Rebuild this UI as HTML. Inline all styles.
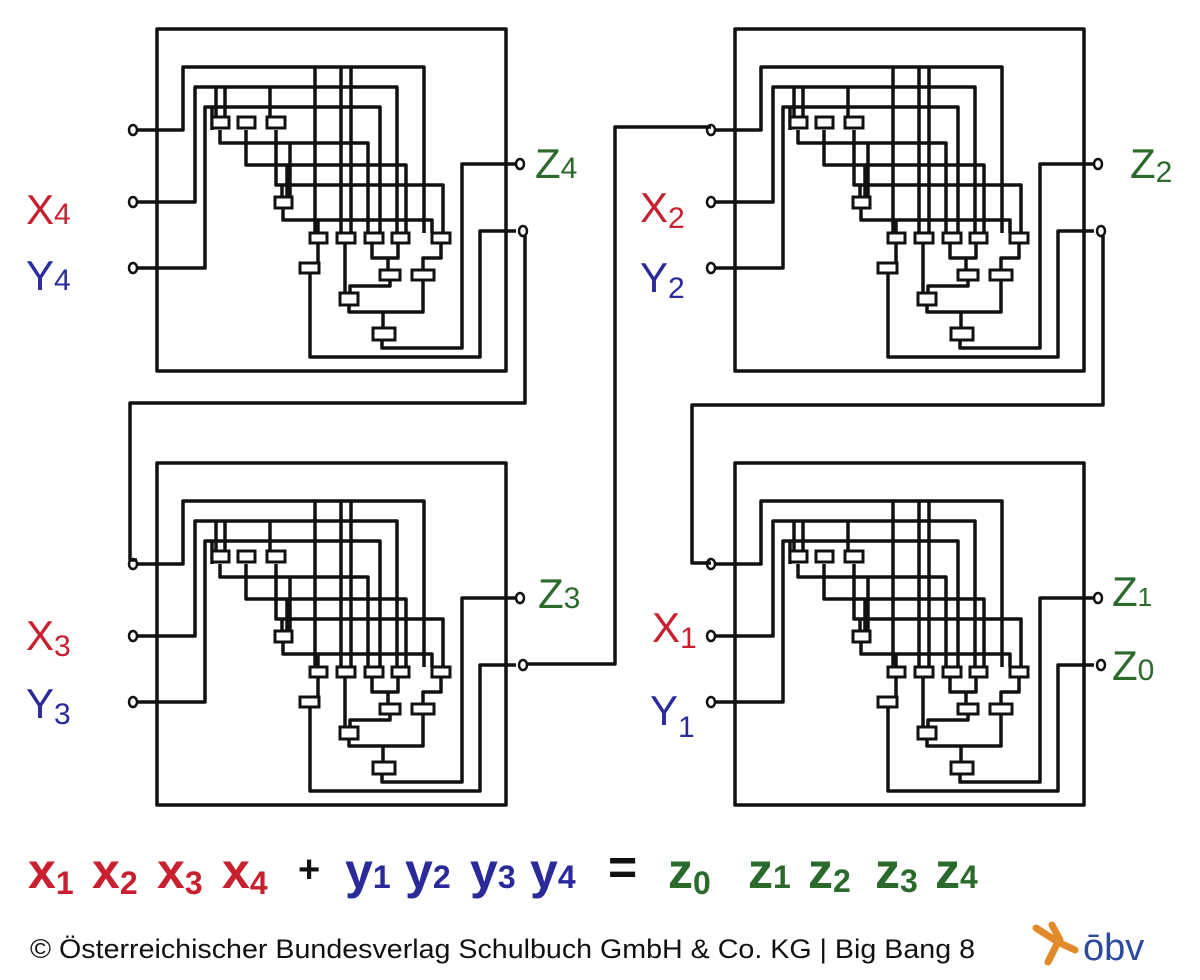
<!DOCTYPE html>
<html><head><meta charset="utf-8"><style>
html,body{margin:0;padding:0;background:#fff;}
svg{display:block;}
.w{fill:none;stroke:#111;stroke-width:3.5;stroke-linejoin:round;}
.g{fill:#fff;stroke:#111;stroke-width:3;}
.c{fill:#fff;stroke:#111;stroke-width:2.5;}
.h{font-family:"Liberation Sans",sans-serif;}
</style></head><body>
<svg width="1200" height="980" viewBox="0 0 1200 980" xmlns="http://www.w3.org/2000/svg">
<defs>
<g id="b">
<rect class="w" x="157" y="29" width="349" height="342"/>
<path class="w" d="M137,130 H183 V67 H424 V233"/>
<path class="w" d="M137,202 H195 V87 H397 V233"/>
<path class="w" d="M137,268 H205 V107 H380 V233"/>
<path class="w" d="M216,87 V117 M225,87 V117 M270,87 V117 M212,107 V130"/>
<path class="w" d="M315,67 V233 M341,67 V233 M351,67 V233"/>
<path class="w" d="M220,130 V143 H368 V233"/>
<path class="w" d="M246,130 V165 H406 V233"/>
<path class="w" d="M276,130 V185 H443 V233 M282,185 V197 M287,165 V197 M290,143 V197"/>
<path class="w" d="M283,209 V220 H432 V233 M318,220 V233"/>
<path class="w" d="M318,243 V263 M345,243 V293 M372,243 V258 H398 V243 M388,258 V270 M441,243 V258 H423 V270"/>
<path class="w" d="M390,280 V286 H350 V293 M423,280 V312 H349 V305 M383,312 V328"/>
<path class="w" d="M382,340 V348 H462 V164 H516"/>
<path class="w" d="M310,273 V357 H480 V231 H516"/>
<rect class="g" x="212" y="117" width="17" height="11"/>
<rect class="g" x="238" y="117" width="17" height="11"/>
<rect class="g" x="267" y="117" width="18" height="11"/>
<rect class="g" x="275" y="197" width="17" height="11"/>
<rect class="g" x="310" y="233" width="17" height="10"/>
<rect class="g" x="337" y="233" width="18" height="10"/>
<rect class="g" x="365" y="233" width="18" height="10"/>
<rect class="g" x="392" y="233" width="17" height="10"/>
<rect class="g" x="432" y="233" width="18" height="10"/>
<rect class="g" x="300" y="263" width="19" height="10"/>
<rect class="g" x="380" y="270" width="20" height="10"/>
<rect class="g" x="412" y="270" width="22" height="10"/>
<rect class="g" x="340" y="293" width="18" height="12"/>
<rect class="g" x="373" y="328" width="22" height="12"/>
<ellipse class="c" cx="133" cy="130" rx="4" ry="5"/>
<ellipse class="c" cx="133" cy="202" rx="4" ry="5"/>
<ellipse class="c" cx="133" cy="268" rx="4" ry="5"/>
<ellipse class="c" cx="520" cy="164" rx="4" ry="5"/>
<ellipse class="c" cx="523" cy="231" rx="4" ry="5"/>
</g>
</defs>
<use href="#b"/>
<use href="#b" transform="translate(578,0)"/>
<use href="#b" transform="translate(0,434)"/>
<use href="#b" transform="translate(578,434)"/>
<path class="w" d="M525,236 V403 H130 V560 H137"/>
<path class="w" d="M527,664 H615 V127 H711"/>
<path class="w" d="M1103,236 V405 H692 V563 H711"/>
<g class="h" font-size="42">
<text x="26" y="224" fill="#c8202e">X<tspan font-size="30">4</tspan></text>
<text x="26" y="290" fill="#2a2a9a">Y<tspan font-size="30">4</tspan></text>
<text x="535" y="178" fill="#2a6a2a">Z<tspan font-size="30">4</tspan></text>
<text x="26" y="650" fill="#c8202e">X<tspan font-size="30" dy="6">3</tspan></text>
<text x="26" y="718" fill="#2a2a9a">Y<tspan font-size="30" dy="6">3</tspan></text>
<text x="538" y="608" fill="#2a6a2a">Z<tspan font-size="30">3</tspan></text>
<text x="640" y="222" fill="#c8202e">X<tspan font-size="30" dy="6">2</tspan></text>
<text x="640" y="292" fill="#2a2a9a">Y<tspan font-size="30" dy="6">2</tspan></text>
<text x="1130" y="178" fill="#2a6a2a">Z<tspan font-size="30" dy="4">2</tspan></text>
<text x="652" y="642" fill="#c8202e">X<tspan font-size="30" dy="6">1</tspan></text>
<text x="650" y="725" fill="#2a2a9a">Y<tspan font-size="30" dy="12">1</tspan></text>
<text x="1112" y="606" fill="#2a6a2a">Z<tspan font-size="26">1</tspan></text>
<text x="1112" y="680" fill="#2a6a2a">Z<tspan font-size="30">0</tspan></text>
</g>
<g class="h" font-size="50" font-weight="bold">
<text x="28" y="888" fill="#c8202e">x<tspan font-size="32" dy="6">1</tspan></text>
<text x="92" y="888" fill="#c8202e">x<tspan font-size="32" dy="6">2</tspan></text>
<text x="157" y="888" fill="#c8202e">x<tspan font-size="32" dy="6">3</tspan></text>
<text x="222" y="888" fill="#c8202e">x<tspan font-size="32" dy="6">4</tspan></text>
<text x="298" y="882" fill="#111" font-size="38">+</text>
<text x="345" y="888" fill="#2a2a9a">y<tspan font-size="32">1</tspan></text>
<text x="405" y="888" fill="#2a2a9a">y<tspan font-size="32">2</tspan></text>
<text x="470" y="888" fill="#2a2a9a">y<tspan font-size="32">3</tspan></text>
<text x="530" y="888" fill="#2a2a9a">y<tspan font-size="32">4</tspan></text>
<text x="608" y="884" fill="#111">=</text>
<text x="668" y="888" fill="#2a6a2a">z<tspan font-size="32" dy="6">0</tspan></text>
<text x="748" y="888" fill="#2a6a2a">z<tspan font-size="32">1</tspan></text>
<text x="808" y="888" fill="#2a6a2a">z<tspan font-size="32" dy="4">2</tspan></text>
<text x="875" y="888" fill="#2a6a2a">z<tspan font-size="32" dy="4">3</tspan></text>
<text x="935" y="888" fill="#2a6a2a">z<tspan font-size="32">4</tspan></text>
</g>
<text x="30" y="958" font-family="Liberation Sans,sans-serif" font-size="27" fill="#111" textLength="945" lengthAdjust="spacingAndGlyphs">© Österreichischer Bundesverlag Schulbuch GmbH &amp; Co. KG |  Big Bang 8</text>
<g stroke="#e08a2a" stroke-width="7" stroke-linecap="round" fill="none">
<path d="M1036,928 L1058,942 M1052,925 L1060,940 M1058,942 L1048,962 M1058,942 L1075,950"/>
</g>
<text x="1083" y="960" font-family="Liberation Sans,sans-serif" font-size="38" fill="#2a4a9a">ōbv</text>
</svg>
</body></html>
